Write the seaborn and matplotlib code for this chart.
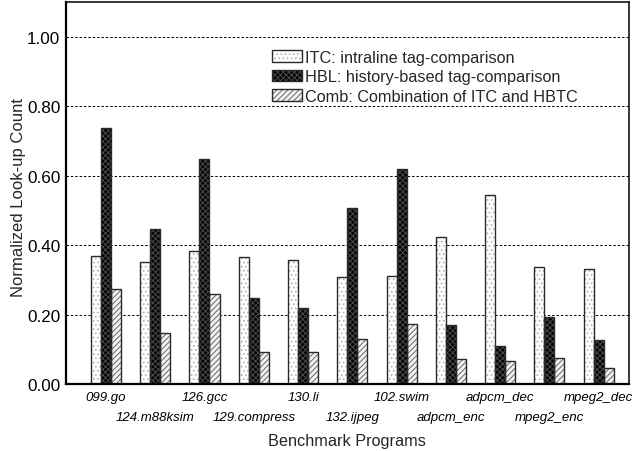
import matplotlib
matplotlib.use("Agg")
import matplotlib.pyplot as plt
from matplotlib.patches import Patch
from matplotlib.legend_handler import HandlerTuple
import seaborn as sns
import pandas as pd

benchmarks = ["099.go", "124.m88ksim", "126.gcc", "129.compress", "130.li",
              "132.ijpeg", "102.swim", "adpcm_enc", "adpcm_dec", "mpeg2_enc",
              "mpeg2_dec"]
series_names = ["ITC: intraline tag-comparison",
                "HBL: history-based tag-comparison",
                "Comb: Combination of ITC and HBTC"]
itc = [0.369, 0.352, 0.384, 0.365, 0.357, 0.308, 0.312, 0.424, 0.545, 0.336, 0.331]
hbl = [0.738, 0.447, 0.647, 0.249, 0.219, 0.507, 0.619, 0.171, 0.109, 0.193, 0.126]
comb = [0.273, 0.147, 0.260, 0.093, 0.093, 0.131, 0.172, 0.072, 0.066, 0.074, 0.047]
y_ticks = [0.0, 0.2, 0.4, 0.6, 0.8, 1.0]

df = pd.DataFrame({
    "Benchmark": benchmarks * 3,
    "Series": [series_names[0]] * 11 + [series_names[1]] * 11 + [series_names[2]] * 11,
    "Count": itc + hbl + comb,
})

sns.set_theme(style="white")
plt.rcParams["font.family"] = ["Liberation Sans", "DejaVu Sans"]
plt.rcParams["hatch.linewidth"] = 0.7

fig = plt.figure(figsize=(6.39, 4.52), dpi=100)
ax = fig.add_axes([0.1033, 0.148, 0.8807, 0.8454])

face = ["white", "#030303", "#f2f2f2"]
hatch_col = ["#b0b0b0", "#4a4a4a", "#666666"]
hatches = ["....", "xxxxxx", "//////"]
outline = "#2a2a2a"

# filled, hatched layer
sns.barplot(data=df, x="Benchmark", y="Count", hue="Series", hue_order=series_names,
            width=0.61, gap=0, dodge=True, errorbar=None, ax=ax,
            palette=face, linewidth=0, legend=False)
n = len(benchmarks)
for i, bar in enumerate(ax.patches[:3 * n]):
    s = i // n
    bar.set_facecolor(face[s])
    bar.set_edgecolor(hatch_col[s])
    bar.set_hatch(hatches[s])
    bar.set_linewidth(0)

# outline layer
sns.barplot(data=df, x="Benchmark", y="Count", hue="Series", hue_order=series_names,
            width=0.61, gap=0, dodge=True, errorbar=None, ax=ax,
            fill=False, palette=[outline] * 3, linewidth=1.0, legend=False)
for bar in ax.patches[3 * n:]:
    bar.set_edgecolor(outline)
    bar.set_linewidth(1.0)

ax.set_xlim(-0.81, n - 1 + 0.61)
ax.set_ylim(0, 1.1)
ax.set_yticks(y_ticks)
ax.set_yticklabels([f"{v:.2f}" for v in y_ticks], fontsize=12.3)
for v in y_ticks[1:]:
    ax.axhline(v, color="black", lw=0.7, ls=(0, (2.5, 2)), zorder=0)

ax.set_xticks(range(n))
ax.set_xticklabels(benchmarks, fontsize=9.5, style="italic")
for i, t in enumerate(ax.xaxis.get_major_ticks()):
    t.set_pad(5 if i % 2 == 0 else 19.5)
ax.tick_params(axis="both", length=0, colors="black")
ax.tick_params(axis="y", pad=4)

ax.set_xlabel("Benchmark Programs", fontsize=11.7, labelpad=7)
ax.set_ylabel("Normalized Look-up Count", fontsize=12, labelpad=1.0)
ax.yaxis.label.set_y(0.49)

for sp in ax.spines.values():
    sp.set_visible(True)
    sp.set_color("black")
    sp.set_linewidth(1.1)
ax.spines["left"].set_linewidth(1.6)
ax.spines["bottom"].set_linewidth(1.6)

handles = [(Patch(facecolor=face[k], edgecolor=hatch_col[k], hatch=hatches[k], lw=0),
            Patch(facecolor="none", edgecolor=outline, lw=1.0)) for k in range(3)]
ax.legend(handles=handles, labels=series_names,
          handler_map={tuple: HandlerTuple(ndivide=1, pad=0)},
          loc="upper left", bbox_to_anchor=(0.366, 0.875), frameon=False,
          fontsize=11.7, handlelength=1.85, handleheight=0.75, handletextpad=0.2,
          labelspacing=0.27, borderpad=0, borderaxespad=0)

fig.savefig("out.png", dpi=100)
